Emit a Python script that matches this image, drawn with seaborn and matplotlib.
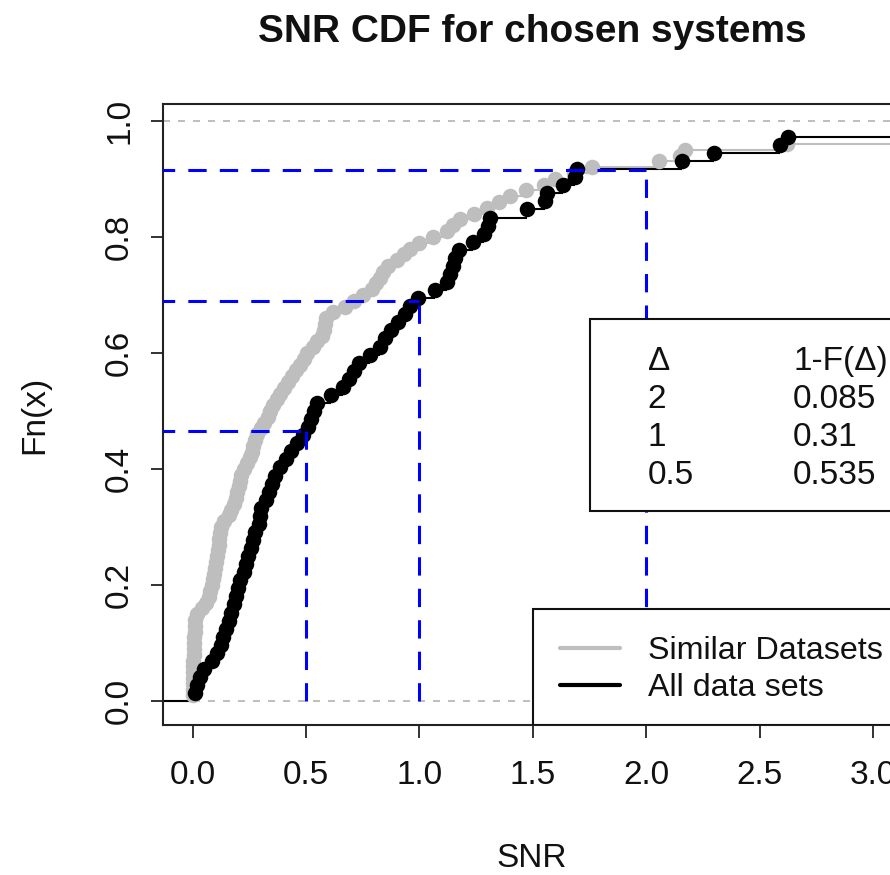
import numpy as np
import pandas as pd
import matplotlib
matplotlib.use("Agg")
import matplotlib.pyplot as plt
import seaborn as sns
from matplotlib.lines import Line2D
from matplotlib.patches import Rectangle

# ---------------- data ----------------
# SNR sample values, "All data sets" (72 samples, 2 lie beyond the shown range)
snr_all = [0.010, 0.018, 0.030, 0.050, 0.083, 0.105, 0.125, 0.135, 0.145, 0.158,
           0.170, 0.180, 0.190, 0.199, 0.210, 0.226, 0.237, 0.246, 0.256, 0.266,
           0.276, 0.291, 0.298, 0.303, 0.325, 0.336, 0.350, 0.365, 0.387, 0.410,
           0.435, 0.460, 0.487, 0.507, 0.520, 0.533, 0.548, 0.610, 0.665, 0.690,
           0.712, 0.735, 0.780, 0.828, 0.850, 0.874, 0.905, 0.935, 0.960, 0.995,
           1.070, 1.120, 1.135, 1.148, 1.158, 1.175, 1.235, 1.285, 1.303, 1.312,
           1.473, 1.555, 1.561, 1.634, 1.686, 1.693, 2.158, 2.300, 2.590, 2.625,
           3.600, 4.300]
# SNR sample values, "Similar Datasets" (100 samples, 4 lie beyond the shown range)
snr_similar = [0.000, 0.000, 0.001, 0.001, 0.002, 0.002, 0.003, 0.004, 0.005, 0.006,
               0.007, 0.008, 0.009, 0.010, 0.020, 0.040, 0.060, 0.070, 0.078, 0.085,
               0.090, 0.096, 0.100, 0.104, 0.108, 0.111, 0.114, 0.117, 0.120, 0.123,
               0.140, 0.160, 0.170, 0.180, 0.190, 0.197, 0.203, 0.209, 0.214, 0.225,
               0.240, 0.253, 0.260, 0.268, 0.275, 0.285, 0.300, 0.315, 0.330, 0.341,
               0.355, 0.370, 0.385, 0.402, 0.420, 0.438, 0.455, 0.472, 0.490, 0.505,
               0.530, 0.550, 0.570, 0.578, 0.582, 0.586, 0.620, 0.670, 0.710, 0.750,
               0.790, 0.810, 0.825, 0.840, 0.860, 0.900, 0.930, 0.960, 1.000, 1.060,
               1.120, 1.150, 1.180, 1.240, 1.300, 1.350, 1.400, 1.470, 1.550, 1.600,
               1.680, 1.760, 2.055, 2.150, 2.170, 2.620, 3.500, 3.900, 4.400, 5.100]

deltas = [2, 1, 0.5]
tail_probs = [0.085, 0.31, 0.535]
table_col1 = ["\u0394", "2", "1", "0.5"]
table_col2 = ["1-F(\u0394)", "0.085", "0.31", "0.535"]

series_names = ["Similar Datasets", "All data sets"]
x_ticks = [0.0, 0.5, 1.0, 1.5, 2.0, 2.5, 3.0]
x_tick_labels = ["0.0", "0.5", "1.0", "1.5", "2.0", "2.5", "3.0"]
y_ticks = [0.0, 0.2, 0.4, 0.6, 0.8, 1.0]
y_tick_labels = ["0.0", "0.2", "0.4", "0.6", "0.8", "1.0"]

# ---------------- style ----------------
sns.set_theme(style="ticks")
plt.rcParams["font.family"] = ["Liberation Sans", "DejaVu Sans"]

FS = 24
GRAY = "#BEBEBE"
BLACK = "#000000"
XLIM = (-0.131, 3.124)
YLIM = (-0.041, 1.029)

fig = plt.figure(figsize=(8.90, 8.75), dpi=100)
ax = fig.add_axes([163 / 890, (875 - 725) / 875, (901 - 163) / 890, (725 - 104) / 875])
ax.set_xlim(*XLIM)
ax.set_ylim(*YLIM)


def ecdf_frame(values, name):
    v = np.sort(np.asarray(values, dtype=float))
    n = len(v)
    return pd.DataFrame({"SNR": v, "Fn": np.arange(1, n + 1) / n, "series": name})


frames = [ecdf_frame(snr_similar, series_names[0]), ecdf_frame(snr_all, series_names[1])]
colors = [GRAY, BLACK]

# 0 / 1 reference lines
for yy in (0.0, 1.0):
    ax.axhline(yy, color="#B3B3B3", lw=1.2, ls=(0, (4.2, 4.8)), zorder=1)

for df, col in zip(frames, colors):
    xs = df["SNR"].to_numpy()
    fs = df["Fn"].to_numpy()
    starts = np.concatenate([[XLIM[0] - 1], xs])
    ends = np.concatenate([xs, [XLIM[1] + 5]])
    levels = np.concatenate([[0.0], fs])
    ax.hlines(levels, starts, ends, colors=col, lw=1.5, zorder=2)
    sns.scatterplot(data=df, x="SNR", y="Fn", color=col, s=125, linewidth=0,
                    ax=ax, zorder=3, legend=False)

# blue guide lines
for d, p in zip(deltas, tail_probs):
    f = 1 - p
    ax.plot([XLIM[0] - 1, d], [f, f], color="#0000FF", lw=2.2, ls=(0, (6, 4.3)), zorder=5)
    ax.plot([d, d], [0, f], color="#0000FF", lw=2.2, ls=(0, (6, 4.3)), zorder=5)

# axes cosmetics
for s in ax.spines.values():
    s.set_linewidth(1.5)
    s.set_color("#222222")
ax.set_xticks(x_ticks)
ax.set_xticklabels(x_tick_labels)
ax.set_yticks(y_ticks)
ax.set_yticklabels(y_tick_labels)
ax.tick_params(axis="both", direction="out", length=9, width=1.3, color="#222222",
               labelsize=FS, labelcolor="#111111")
ax.tick_params(axis="x", pad=16)
ax.tick_params(axis="y", pad=11, labelrotation=90)
for lab in ax.get_yticklabels():
    lab.set_va("center")

ax.set_xlabel("SNR", fontsize=FS, color="#111111")
ax.xaxis.set_label_coords(0.5, -0.19)
ax.set_ylabel("Fn(x)", fontsize=FS, color="#111111", va="center")
ax.yaxis.set_label_coords(-0.1734, 0.5)
ax.set_title("SNR CDF for chosen systems", fontsize=28, fontweight="bold",
             y=1.0998, pad=0, color="#111111")

# legend (frame drawn separately to match the R-style box)
LEG_X, LEG_Y = (533 - 163) / 738, (725 - 609) / 621
ax.add_patch(Rectangle((LEG_X, 0.0), 0.6, LEG_Y, transform=ax.transAxes,
                       facecolor="white", edgecolor="#111111", lw=1.5, zorder=9))
handles = [Line2D([], [], color=GRAY, lw=3), Line2D([], [], color=BLACK, lw=3)]
leg = ax.legend(handles, series_names, loc="upper left", bbox_to_anchor=(LEG_X, LEG_Y),
                borderaxespad=0, frameon=False, fontsize=23.2, handlelength=1.85,
                handletextpad=0.87, borderpad=0.85, labelspacing=0.2)
leg.set_zorder(10)
for t in leg.get_texts():
    t.set_color("#111111")

# delta table box
ax.add_patch(Rectangle((0.5786, 0.3446), 0.5, 0.6538 - 0.3446, transform=ax.transAxes,
                       facecolor="white", edgecolor="#111111", lw=1.5, zorder=10))
for i, (c1, c2) in enumerate(zip(table_col1, table_col2)):
    yy = 0.5717 - i * 0.0612
    ax.text(0.657, yy, c1, transform=ax.transAxes, fontsize=FS, va="baseline",
            ha="left", zorder=11, color="#111111")
    ax.text(0.8537, yy, c2, transform=ax.transAxes, fontsize=FS, va="baseline",
            ha="left", zorder=11, color="#111111")

fig.savefig("out.png", dpi=100)
